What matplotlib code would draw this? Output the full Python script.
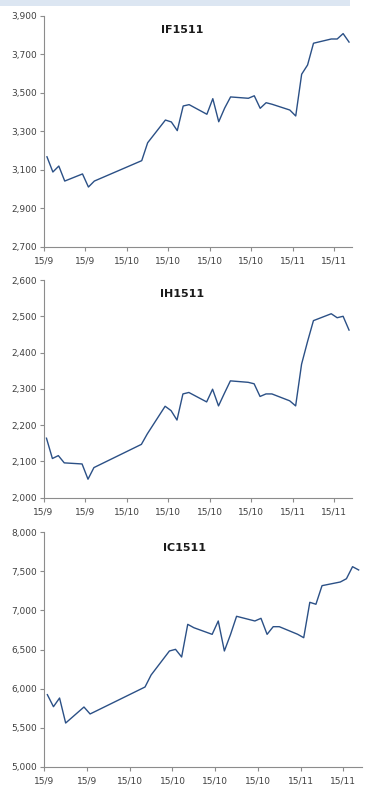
import matplotlib
matplotlib.use('Agg')
import matplotlib.pyplot as plt
import matplotlib.dates as mdates
from matplotlib.patches import Rectangle
from matplotlib.ticker import FuncFormatter
import datetime as dt

plt.rcParams['font.family'] = ['Liberation Sans Narrow', 'DejaVu Sans']

# trading days (Sep 22 - Nov 12, 2015, holiday gap Oct 1-7)
dates = ['2015-09-22', '2015-09-23', '2015-09-24', '2015-09-25', '2015-09-28',
         '2015-09-29', '2015-09-30', '2015-10-08', '2015-10-09', '2015-10-12',
         '2015-10-13', '2015-10-14', '2015-10-15', '2015-10-16', '2015-10-19',
         '2015-10-20', '2015-10-21', '2015-10-22', '2015-10-23', '2015-10-26',
         '2015-10-27', '2015-10-28', '2015-10-29', '2015-10-30', '2015-11-02',
         '2015-11-03', '2015-11-04', '2015-11-05', '2015-11-06', '2015-11-09',
         '2015-11-10', '2015-11-11', '2015-11-12']

if1511 = [3167, 3088, 3119, 3041, 3078, 3010, 3041, 3147, 3240, 3358,
          3348, 3303, 3431, 3438, 3388, 3469, 3349, 3420, 3478, 3471,
          3484, 3419, 3448, 3440, 3410, 3379, 3596, 3644, 3757, 3779,
          3779, 3807, 3763]

ih1511 = [2164, 2108, 2116, 2096, 2093, 2051, 2083, 2147, 2176, 2252,
          2240, 2214, 2286, 2290, 2264, 2299, 2253, 2288, 2322, 2318,
          2314, 2279, 2286, 2286, 2267, 2253, 2368, 2430, 2488, 2507,
          2496, 2500, 2462]

ic1511 = [5922, 5768, 5879, 5559, 5764, 5675, 5713, 6020, 6174, 6481,
          6502, 6404, 6822, 6779, 6694, 6865, 6481, 6690, 6925, 6865,
          6899, 6694, 6792, 6792, 6695, 6651, 7104, 7079, 7317, 7364,
          7406, 7560, 7518]

panels = [
    ('IF1511', if1511, (2700, 3900), 200),
    ('IH1511', ih1511, (2000, 2600), 100),
    ('IC1511', ic1511, (5000, 8000), 500),
]

# axes boxes in pixels: left, right, top, bottom
boxes = [(44, 352, 15.7, 246.7), (43.5, 352, 280, 497.7), (44.3, 361.7, 532.3, 766.7)]
title_pos = [(182, 30), (182, 294), (184, 548)]

W, H = 366, 789
fig = plt.figure(figsize=(W / 100, H / 100), dpi=100)
fig.patches.append(Rectangle((0, 1 - 6 / H), 350 / W, 6 / H, transform=fig.transFigure,
                             facecolor='#dce6f2', edgecolor='none'))

x = [mdates.date2num(dt.datetime.strptime(d, '%Y-%m-%d')) + 0.5 for d in dates]
x0 = mdates.date2num(dt.datetime(2015, 9, 22))
ticks = [x0 + 7 * k for k in range(8)]

def date_fmt(v, pos):
    d = mdates.num2date(v)
    return f'{d.year % 100}/{d.month}'

for (name, vals, ylim, step), (l, r, t, b), (tx, ty) in zip(panels, boxes, title_pos):
    ax = fig.add_axes([l / W, 1 - b / H, (r - l) / W, (b - t) / H])
    ax.plot(x, vals, color='#2b5086', lw=1.0)
    ax.set_xlim(x0, x0 + 52)
    ax.set_ylim(*ylim)
    ax.set_yticks(range(ylim[0], ylim[1] + 1, step))
    ax.yaxis.set_major_formatter(FuncFormatter(lambda v, p: f'{v:,.0f}'))
    ax.set_xticks(ticks)
    ax.xaxis.set_major_formatter(FuncFormatter(date_fmt))
    for s in ('top', 'right'):
        ax.spines[s].set_visible(False)
    for s in ('left', 'bottom'):
        ax.spines[s].set_color('#8c8c8c')
        ax.spines[s].set_linewidth(0.8)
    ax.tick_params(axis='both', length=3, width=0.8, color='#8c8c8c',
                   labelsize=6.5, labelcolor='#404040', pad=2)
    ax.tick_params(axis='x', pad=4)
    fig.text(tx / W, 1 - ty / H, name, ha='center', va='center',
             fontsize=8, fontweight='bold', color='#1a1a1a')

fig.savefig('out.png', dpi=100)
